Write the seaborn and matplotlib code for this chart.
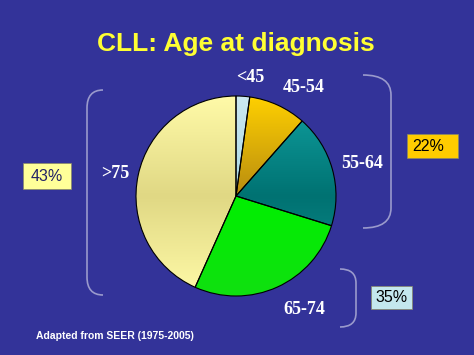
import numpy as np
import matplotlib
matplotlib.use("Agg")
import matplotlib.pyplot as plt
import seaborn as sns
from matplotlib.colors import LinearSegmentedColormap
from matplotlib.patches import Rectangle, PathPatch
from matplotlib.path import Path

# ---- data ----
labels = ["<45", "45-54", "55-64", "65-74", ">75"]
values = [2.2, 9.3, 18.3, 26.9, 43.3]
group_labels = ["22%", "35%", "43%"]

BG = "#333399"
base_colors = ["#b8e0ea", "#e0b000", "#088080", "#00f000", "#f4ee98"]
grads = [
    ["#cce8f0", "#a8d8e6", "#c4e4ee"],
    ["#ffd000", "#b88c10", "#c09010"],
    ["#10a0a0", "#007272", "#109090"],
    ["#20ff20", "#00f000", "#10e010"],
    ["#fffaa8", "#e0d884", "#fffaa8"],
]

sns.set_theme(style="white")
plt.rcParams['font.family'] = ['Liberation Sans', 'DejaVu Sans']

fig = plt.figure(figsize=(4.74, 3.55), dpi=100, facecolor=BG)

# pie axes
cx, cy, r = 236, 196, 101
ax = fig.add_axes([(cx - r) / 474, (355 - cy - r) / 355, 2 * r / 474, 2 * r / 355])
ax.set_facecolor("none")
wedges, _ = ax.pie(values, startangle=90, counterclock=False, colors=base_colors,
                   wedgeprops=dict(edgecolor="black", linewidth=0.8), radius=1)
grad = np.linspace(0, 1, 256).reshape(-1, 1)
for w, stops in zip(wedges, grads):
    cmap = LinearSegmentedColormap.from_list("g", stops)
    im = ax.imshow(grad, extent=[-1, 1, -1, 1], cmap=cmap, origin="upper",
                   aspect="auto", zorder=1, interpolation="bilinear")
    im.set_clip_path(w)
    w.set_facecolor("none")
    w.set_zorder(3)
ax.set_xlim(-1.01, 1.01)
ax.set_ylim(-1.01, 1.01)
ax.axis("off")

# overlay axes in pixel coordinates
ov = fig.add_axes([0, 0, 1, 1])
ov.set_xlim(0, 474)
ov.set_ylim(355, 0)
ov.axis("off")
ov.patch.set_alpha(0)

ov.text(236, 44, "CLL: Age at diagnosis", color="#ffff33", fontsize=19,
        fontweight="bold", ha="center", va="center")

label_pos = [(250, 78), (304, 88), (362, 163), (304, 309), (115, 174)]
for lab, (x, y) in zip(labels, label_pos):
    ov.text(x, y, lab, color="white", fontsize=13, ha="center", va="center",
            fontweight="bold", family=["Liberation Serif", "DejaVu Serif"])

# brackets
bc = "#9a9acc"
def bracket(verts, codes):
    ov.add_patch(PathPatch(Path(verts, codes), facecolor="none", edgecolor=bc, lw=1.2))

M, L, C = Path.MOVETO, Path.LINETO, Path.CURVE3
bracket([(363, 75), (391, 75), (391, 95), (391, 208), (391, 228), (363, 228)],
        [M, C, C, L, C, C])
bracket([(340, 269), (356, 269), (356, 283), (356, 313), (356, 327), (340, 327)],
        [M, C, C, L, C, C])
bracket([(103, 90), (87, 90), (87, 108), (87, 277), (87, 295), (103, 295)],
        [M, C, C, L, C, C])

# percentage boxes
boxes = [((407, 134, 51, 24), "#ffcc00", "black", "left"),
         ((371, 286, 41, 23), "#c4e8ee", "black", "center"),
         ((23, 163, 48, 26), "#ffff99", "#222266", "center")]
for lab, ((x, y, w, h), fc, tc, al) in zip(group_labels, boxes):
    ov.add_patch(Rectangle((x, y), w, h, facecolor=fc, edgecolor="#888866", lw=0.5))
    tx = x + 5 if al == "left" else x + w / 2
    ov.text(tx, y + h / 2 + 0.5, lab, color=tc, fontsize=11.5, ha=al, va="center")

ov.text(36, 336, "Adapted from SEER (1975-2005)", color="white", fontsize=7.5,
        fontweight="bold", ha="left", va="center")

fig.savefig("out.png", dpi=100, facecolor=BG)
